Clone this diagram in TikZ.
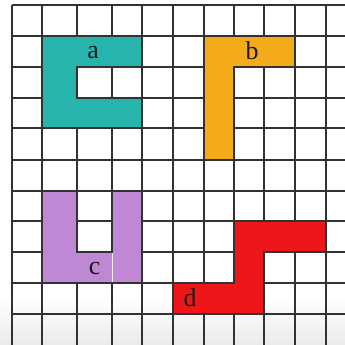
\documentclass[tikz,border=0pt]{standalone}
\usepackage{fontspec}
\setmainfont{Liberation Serif}
\definecolor{tealA}{RGB}{38,180,172}
\definecolor{orangeB}{RGB}{243,171,27}
\definecolor{purpleC}{RGB}{192,135,212}
\definecolor{redD}{RGB}{238,22,24}
\definecolor{gridcol}{RGB}{50,50,50}
\tikzset{
  gridline/.style={draw=gridcol, line width=1.1bp},
  piece/.style={gridline, line join=miter},
  lbl/.style={font=\fontsize{26}{26}\selectfont, text=black!90, inner sep=0pt}
}
\begin{document}
\begin{tikzpicture}[x=1bp,y=-1bp]
\useasboundingbox (0,0) rectangle (345,345);
\fill[white] (0,0) rectangle (345,345);
\shade[top color=white, bottom color=black!8] (0,298) rectangle (345,345);
% grid
\foreach \gx in {12,42,77,112,142,173,204,234,264,295,326}
  \draw[gridline] (\gx,5) -- (\gx,345);
\foreach \gy in {5,36,67,98,128,160,191,221,252,283,314}
  \draw[gridline] (12,\gy) -- (345,\gy);
% piece a
\filldraw[piece, fill=tealA] (42,36) -- (142,36) -- (142,67) -- (77,67) -- (77,98) -- (142,98) -- (142,128) -- (42,128) -- cycle;
% piece b
\filldraw[piece, fill=orangeB] (204,36) -- (295,36) -- (295,67) -- (234,67) -- (234,160) -- (204,160) -- cycle;
% piece c
\filldraw[piece, fill=purpleC] (42,191) -- (77,191) -- (77,252) -- (112,252) -- (112,191) -- (142,191) -- (142,283) -- (42,283) -- cycle;
\draw[white!85!purpleC, line width=0.8bp] (112,253) -- (112,282);
% piece d
\filldraw[piece, fill=redD] (173,283) -- (234,283) -- (234,221) -- (326,221) -- (326,252) -- (264,252) -- (264,314) -- (173,314) -- cycle;
% labels
\node[lbl] (la) at (93,53) {a};
\node[lbl] (lb) at (252,51) {b};
\node[lbl] (lc) at (94.5,269) {c};
\node[lbl] (ld) at (190,298) {d};
\end{tikzpicture}
\end{document}
